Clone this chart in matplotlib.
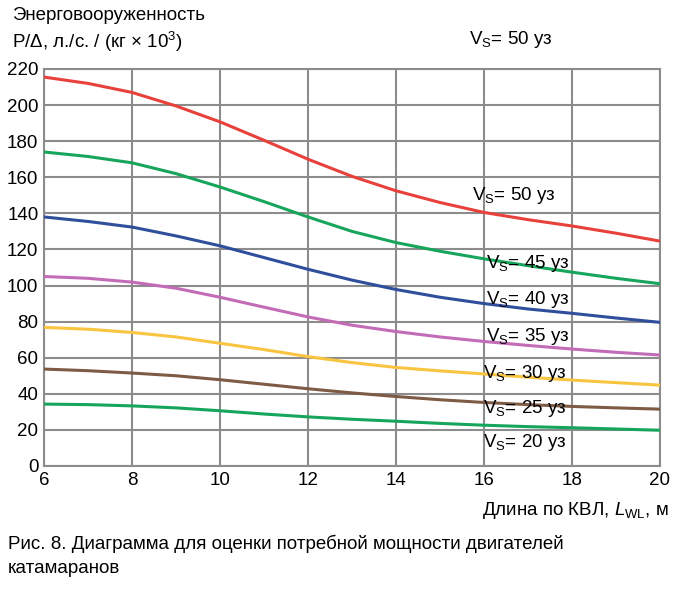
import matplotlib.pyplot as plt

plt.rcParams['font.family'] = ['Liberation Sans', 'DejaVu Sans']
plt.rcParams['mathtext.fontset'] = 'custom'
plt.rcParams['mathtext.rm'] = 'Liberation Sans'
plt.rcParams['mathtext.it'] = 'Liberation Sans:italic'

# Length on waterline, m
x = [6, 7, 8, 9, 10, 11, 12, 13, 14, 15, 16, 17, 18, 19, 20]

v50 = [215.5, 212, 207, 199.5, 190.7, 180.5, 170, 160.5, 152.5, 146, 140.5, 136.5, 133, 129, 124.6]
v45 = [174, 171.5, 168, 162, 154.6, 146.5, 138, 130, 123.8, 119, 114.8, 111, 107.4, 104, 101]
v40 = [138, 135.5, 132.4, 127.5, 122, 115.5, 109, 103, 97.8, 93.5, 90, 87, 84.6, 82, 79.6]
v35 = [105, 104, 101.9, 98.5, 93.5, 88, 82.6, 78, 74.5, 71.5, 69, 66.8, 64.8, 63, 61.5]
v30 = [76.8, 75.8, 74, 71.5, 68, 64.5, 60.6, 57.3, 54.6, 52.7, 51, 49.2, 47.6, 46.2, 44.8]
v25 = [53.7, 52.8, 51.5, 50, 47.8, 45.3, 42.8, 40.5, 38.5, 36.7, 35.2, 34, 33, 32.2, 31.5]
v20 = [34.3, 34, 33.3, 32.2, 30.6, 28.8, 27.2, 25.9, 24.8, 23.6, 22.6, 21.8, 21.2, 20.5, 19.8]

series = [v50, v45, v40, v35, v30, v25, v20]
colors = ['#e8413c', '#17a55b', '#2f4f9c', '#c26bb6', '#f9c440', '#7d5b45', '#17a55b']
speeds = ['50', '45', '40', '35', '30', '25', '20']
# label anchor positions (data coords)
lab_x = [15.72, 16.05, 16.05, 16.05, 15.98, 15.98, 15.98]
lab_y = [150, 112, 92, 72, 51, 32, 13]

fig = plt.figure(figsize=(6.82, 5.90), dpi=100)
ax = fig.add_axes([0.0645, 0.2102, 0.9032, 0.6729])

for vals, c in zip(series, colors):
    ax.plot(x, vals, color=c, linewidth=2.2, solid_capstyle='butt',
            solid_joinstyle='round', zorder=3)

for s, lx, ly in zip(speeds, lab_x, lab_y):
    ax.text(lx, ly, 'V$_{\\mathrm{S}}$= ' + s + ' уз', fontsize=13.5, va='center', ha='left', zorder=4)

ax.set_xlim(6, 20)
ax.set_ylim(0, 220)
ax.set_xticks(range(6, 21, 2))
ax.set_yticks(range(0, 221, 20))
ax.grid(True, color='#8c8c8c', linewidth=1.5)
ax.set_axisbelow(True)
for sp in ax.spines.values():
    sp.set_color('#8c8c8c')
    sp.set_linewidth(1.5)
ax.tick_params(length=0, labelsize=13.5, pad=4)

fig.text(0.018, 0.988, 'Энерговооруженность', fontsize=13.5, va='top')
fig.text(0.018, 0.95, 'Р/Δ, л./с. / (кг × 10$^{3}$)', fontsize=13.5, va='top')
fig.text(0.688, 0.95, 'V$_{\\mathrm{S}}$= 50 уз', fontsize=13.5, va='top')
fig.text(0.98, 0.135, 'Длина по КВЛ, $L_{\\mathrm{WL}}$, м', fontsize=13.5, ha='right', va='center')
fig.text(0.012, 0.079, 'Рис. 8. Диаграмма для оценки потребной мощности двигателей', fontsize=13.5, va='center')
fig.text(0.012, 0.037, 'катамаранов', fontsize=13.5, va='center')

fig.savefig('out.png', dpi=100)
